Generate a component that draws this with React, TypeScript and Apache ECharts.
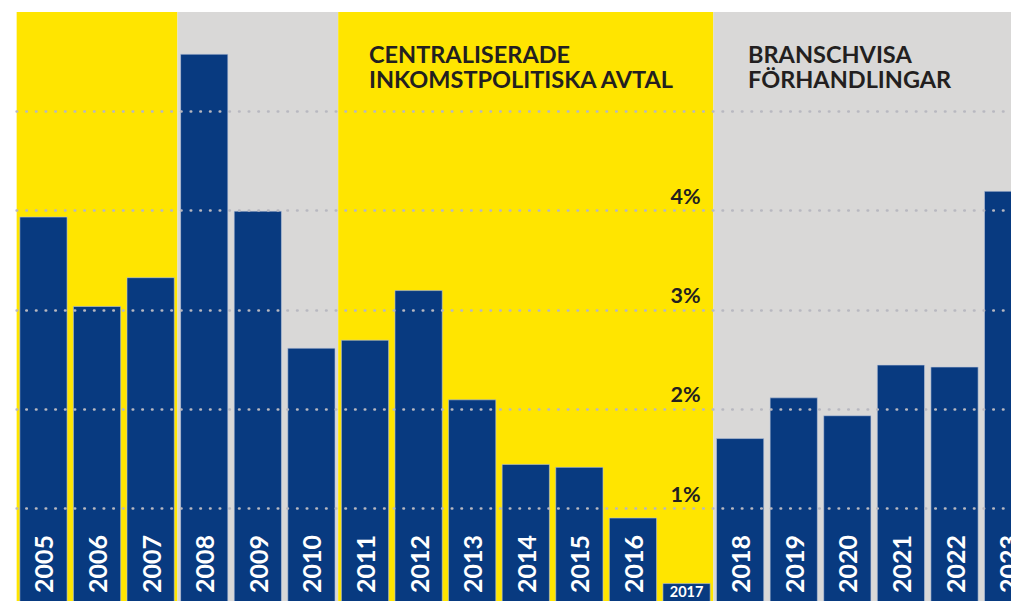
import React, { useEffect, useRef } from "react";
import * as echarts from "echarts";

const years = ["2005","2006","2007","2008","2009","2010","2011","2012","2013","2014","2015","2016","2017","2018","2019","2020","2021","2022","2023"];
const values = [3.94, 3.04, 3.33, 5.58, 4.0, 2.62, 2.7, 3.2, 2.1, 1.45, 1.42, 0.91, 0.25, 1.71, 2.12, 1.94, 2.45, 2.43, 4.2];
const regions = [
  { from: "2005", to: "2007", color: "#FFE500" },
  { from: "2008", to: "2010", color: "#D9D8D7" },
  { from: "2011", to: "2017", color: "#FFE500" },
  { from: "2018", to: "2023", color: "#D9D8D7" },
];
const tickLabels = ["1%", "2%", "3%", "4%"];
const titleCentral = ["CENTRALISERADE", "INKOMSTPOLITISKA AVTAL"];
const titleBransch = ["BRANSCHVISA", "FÖRHANDLINGAR"];

const FONT = "Lato, 'Open Sans', sans-serif";
const BLUE = "#083A80";
const DARK = "#231F20";

export default function App() {
  const ref = useRef<HTMLDivElement>(null);
  useEffect(() => {
    if (!ref.current) return;
    const chart = echarts.init(ref.current, undefined, { renderer: "svg" });
    const data = values.map((v, i) => {
      if (years[i] === "2017") {
        return {
          value: v,
          label: {
            rotate: 0,
            fontSize: 14.5,
            align: "center",
            verticalAlign: "bottom",
            position: "insideBottom",
            distance: 9,
          },
        };
      }
      return v;
    });
    const titleStyle = {
      fontFamily: FONT,
      fontWeight: "bold",
      fontSize: 23.5,
      lineHeight: 25,
      fill: DARK,
    };
    chart.setOption({
      animation: false,
      grid: { left: 16.65, right: 5.1, top: 12, bottom: 12.1, containLabel: false },
      xAxis: {
        type: "category",
        data: years,
        axisLine: { show: false },
        axisTick: { show: false },
        axisLabel: { show: false },
        splitLine: { show: false },
      },
      yAxis: {
        type: "value",
        min: 0,
        max: 6,
        interval: 1,
        position: "right",
        offset: -334.2,
        z: 5,
        axisLine: { show: false },
        axisTick: { show: false },
        axisLabel: {
          inside: true,
          margin: 0,
          fontFamily: FONT,
          fontWeight: "bold",
          fontSize: 21.5,
          color: DARK,
          verticalAlign: "bottom",
          padding: [0, 0, 4, 0],
          formatter: (v: number) => {
            const s = `${v}%`;
            return tickLabels.includes(s) ? s : "";
          },
        },
        splitLine: {
          show: true,
          showMinLine: false,
          showMaxLine: false,
          lineStyle: { color: "#B8B8C0", width: 2.6, type: [0.5, 9.17], cap: "round" },
        },
      },
      series: [
        {
          type: "bar",
          data,
          barCategoryGap: "10%",
          itemStyle: { color: BLUE, borderColor: "rgba(190,200,220,0.6)", borderWidth: 1 },
          label: {
            show: true,
            position: "insideBottom",
            rotate: 90,
            align: "left",
            verticalAlign: "middle",
            distance: 15,
            color: "#FFFFFF",
            fontFamily: FONT,
            fontWeight: "bold",
            fontSize: 25,
            formatter: (p: any) => p.name,
          },
          markArea: {
            silent: true,
            z: -1,
            data: regions.map((r) => [
              { xAxis: r.from, itemStyle: { color: r.color } },
              { xAxis: r.to },
            ]),
          },
        },
      ],
      graphic: [
        {
          type: "text",
          left: 369,
          top: 41.5,
          style: { text: titleCentral.join("\n"), ...titleStyle },
          z: 10,
        },
        {
          type: "text",
          left: 748,
          top: 41.5,
          style: { text: titleBransch.join("\n"), ...titleStyle },
          z: 10,
        },
      ],
    });
    return () => chart.dispose();
  }, []);
  return (
    <div style={{ position: "fixed", left: 0, top: 0, width: 1011, height: 601, overflow: "hidden", background: "#fff" }}>
      <div ref={ref} style={{ width: 1040, height: 620 }} />
    </div>
  );
}
